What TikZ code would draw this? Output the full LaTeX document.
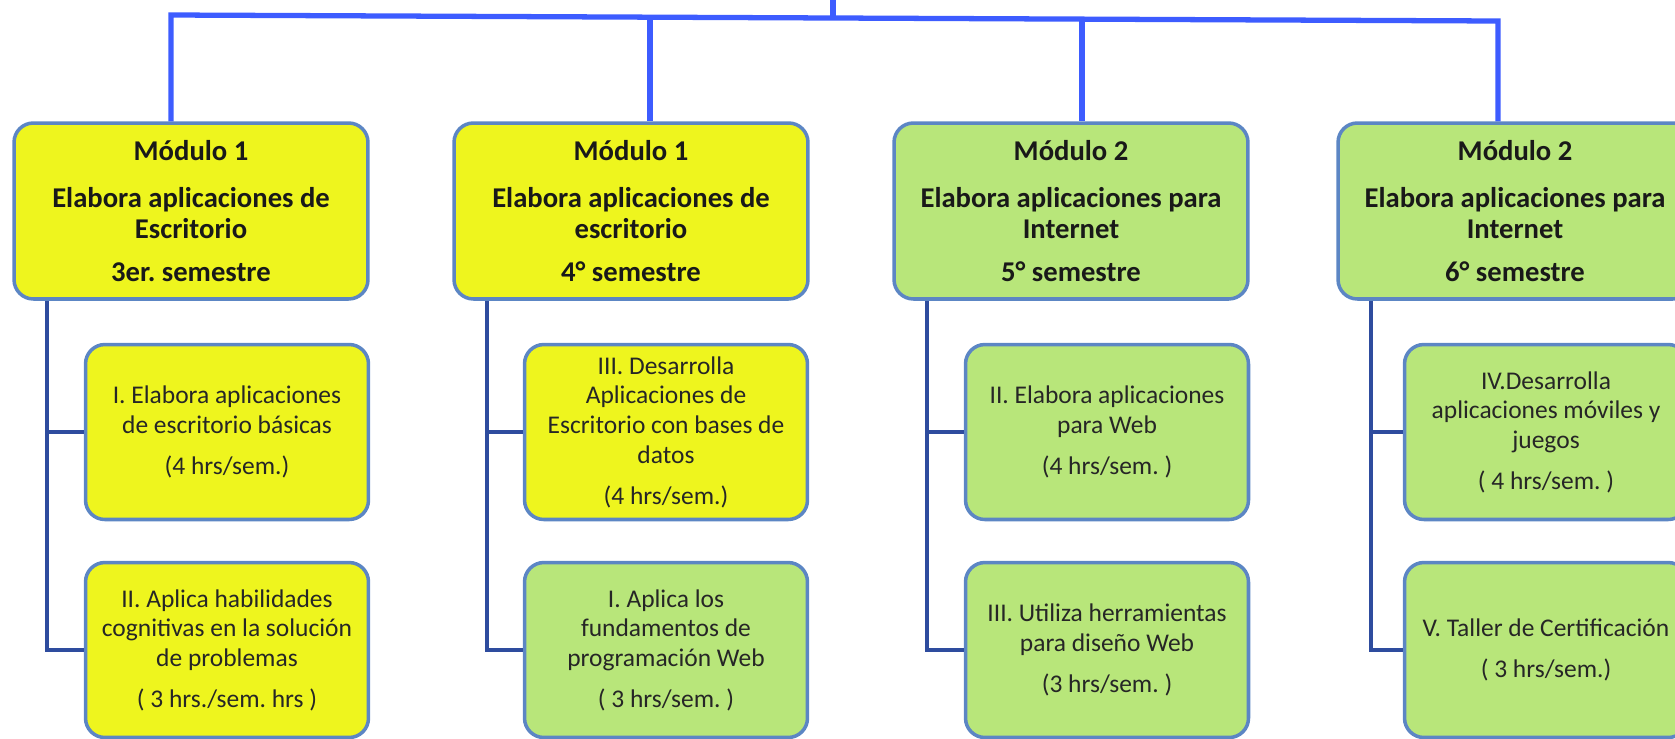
\documentclass[tikz,border=0pt]{standalone}
\usepackage{fontspec}
\setmainfont{Carlito}
\usetikzlibrary{positioning}
\usetikzlibrary{calc}
\frenchspacing

\definecolor{amarillo}{RGB}{238,245,30}
\definecolor{verde}{RGB}{184,230,122}
\definecolor{borde}{RGB}{92,134,196}
\definecolor{azul}{RGB}{61,92,255}
\definecolor{marino}{RGB}{46,76,158}

\tikzset{
  modbox/.style={draw=borde, line width=2pt, rounded corners=11pt,
    minimum width=7.08cm, minimum height=3.52cm, inner sep=0pt,
    align=center, font=\fontsize{16.3}{17.5}\selectfont\bfseries, text=black!90},
  subbox/.style={draw=borde, line width=2pt, rounded corners=11pt,
    minimum width=5.66cm, minimum height=3.5cm, inner sep=0pt,
    align=center, font=\fontsize{14.5}{17}\selectfont, text=black!85},
  bus/.style={draw=azul, line width=3pt},
  branch/.style={draw=marino, line width=2.2pt}
}

\begin{document}
\begin{tikzpicture}[x=0.02cm,y=-0.02cm]
    \clip (0,0) rectangle (1675,738);
    % Module boxes
    \node[modbox, fill=amarillo] (m1) at (191,211) {Módulo 1\\[9pt] Elabora aplicaciones de\\ Escritorio\\[7pt] 3er. semestre};
    \node[modbox, fill=amarillo] (m2) at (631,211) {Módulo 1\\[9pt] Elabora aplicaciones de\\ escritorio\\[7pt] 4° semestre};
    \node[modbox, fill=verde] (m3) at (1071,211) {Módulo 2\\[9pt] Elabora aplicaciones para\\ Internet\\[7pt] 5° semestre};
    \node[modbox, fill=verde] (m4) at (1515,211) {Módulo 2\\[9pt] Elabora aplicaciones para\\ Internet\\[7pt] 6° semestre};

    % Submodule boxes
    \node[subbox, fill=amarillo] (s11) at (227,432) {I. Elabora aplicaciones\\ de escritorio básicas\\[6pt] (4 hrs/sem.)};
    \node[subbox, fill=amarillo] (s12) at (227,650) {II. Aplica habilidades\\ cognitivas en la solución\\ de problemas\\[6pt] ( 3 hrs./sem. hrs )};
    \node[subbox, fill=amarillo] (s21) at (666,432) {III. Desarrolla\\ Aplicaciones de\\ Escritorio con bases de\\ datos\\[6pt] (4 hrs/sem.)};
    \node[subbox, fill=verde] (s22) at (666,650) {I. Aplica los\\ fundamentos de\\ programación Web\\[6pt] ( 3 hrs/sem. )};
    \node[subbox, fill=verde] (s31) at (1107,432) {II. Elabora aplicaciones\\ para Web\\[6pt] (4 hrs/sem. )};
    \node[subbox, fill=verde] (s32) at (1107,650) {III. Utiliza herramientas\\ para diseño Web\\[6pt] (3 hrs/sem. )};
    \node[subbox, fill=verde] (s41) at (1546,432) {IV.Desarrolla\\ aplicaciones móviles y\\ juegos\\[6pt] ( 4 hrs/sem. )};
    \node[subbox, fill=verde] (s42) at (1546,650) {V. Taller de Certificación\\[6pt] ( 3 hrs/sem.)};

    % Define the points of the top bus
    \coordinate (t0) at (833,0);
    \coordinate (t1) at (833,18);
    \coordinate (b1) at (171,15);
    \coordinate (b2) at (650,17);
    \coordinate (b3) at (1082,19);
    \coordinate (b4) at (1498,21);

    % Draw the bus
    \draw[bus] (t0) -- (t1);
    \draw[bus] (b1 |- m1.north) -- (b1) -- (b4) -- (b4 |- m4.north);
    \foreach \point/\modname in {b2/m2, b3/m3}
        \draw[bus] (\point) -- (\point |- \modname.north);

    % Draw the branches
    \foreach \col in {1,2,3,4}
    {
        \draw[branch] ($(m\col.south west)+(35,0)$) |- (s\col1.west);
        \draw[branch] ($(m\col.south west)+(35,0)$) |- (s\col2.west);
    }
\end{tikzpicture}
\end{document}
